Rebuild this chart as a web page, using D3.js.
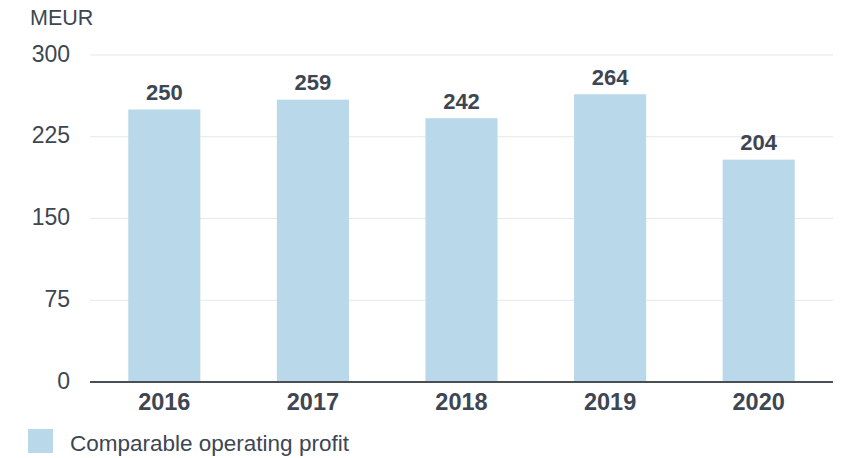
<!DOCTYPE html>
<html><head><meta charset="utf-8">
<script src="https://cdn.jsdelivr.net/npm/d3@7"></script>
<style>body{margin:0;background:#fff}svg{display:block;font-family:"Liberation Sans",Arial,sans-serif}</style>
</head><body><svg id="c" width="849" height="458"></svg>
<script>
const years = ["2016","2017","2018","2019","2020"];
const profit = [250, 259, 242, 264, 204];
const yTicks = [0, 75, 150, 225, 300];
const unitLabel = "MEUR";
const seriesName = "Comparable operating profit";

const svg = d3.select("#c");
const textColor = "#3d4652";
const barColor = "#b9d8ea";
const x = d3.scaleBand().domain(years).range([90, 833]).paddingInner(0.515).paddingOuter(0.2575);
const y = d3.scaleLinear().domain([0, 300]).range([382, 55]);

svg.append("g").selectAll("line").data(yTicks.filter(d => d > 0)).join("line")
  .attr("x1", 90).attr("x2", 833).attr("y1", d => y(d)).attr("y2", d => y(d))
  .attr("stroke", "#e3e9ec").attr("stroke-width", 1);

svg.append("g").selectAll("text").data(yTicks).join("text")
  .attr("x", 70).attr("y", d => y(d) + 6.5).attr("text-anchor", "end")
  .attr("font-size", 23).attr("fill", textColor).text(d => d);

svg.append("text").attr("x", 30).attr("y", 25).attr("font-size", 21.5).attr("fill", textColor).text(unitLabel);

svg.append("g").selectAll("rect").data(profit).join("rect")
  .attr("x", (d, i) => x(years[i])).attr("width", x.bandwidth())
  .attr("y", d => y(d)).attr("height", d => y(0) - y(d)).attr("fill", barColor);

svg.append("g").selectAll("text").data(profit).join("text")
  .attr("x", (d, i) => x(years[i]) + x.bandwidth() / 2).attr("y", d => y(d) - 9.5)
  .attr("text-anchor", "middle").attr("font-size", 22).attr("font-weight", "bold").attr("fill", textColor).text(d => d);

svg.append("line").attr("x1", 90).attr("x2", 833).attr("y1", y(0)).attr("y2", y(0))
  .attr("stroke", "#4a4f55").attr("stroke-width", 2);

svg.append("g").selectAll("text").data(years).join("text")
  .attr("x", d => x(d) + x.bandwidth() / 2).attr("y", 410)
  .attr("text-anchor", "middle").attr("font-size", 23.5).attr("font-weight", "bold").attr("fill", textColor).text(d => d);

svg.append("rect").attr("x", 28).attr("y", 429).attr("width", 25).attr("height", 24).attr("fill", barColor);
svg.append("text").attr("x", 70).attr("y", 451).attr("font-size", 22.5).attr("fill", textColor).text(seriesName);
</script></body></html>
